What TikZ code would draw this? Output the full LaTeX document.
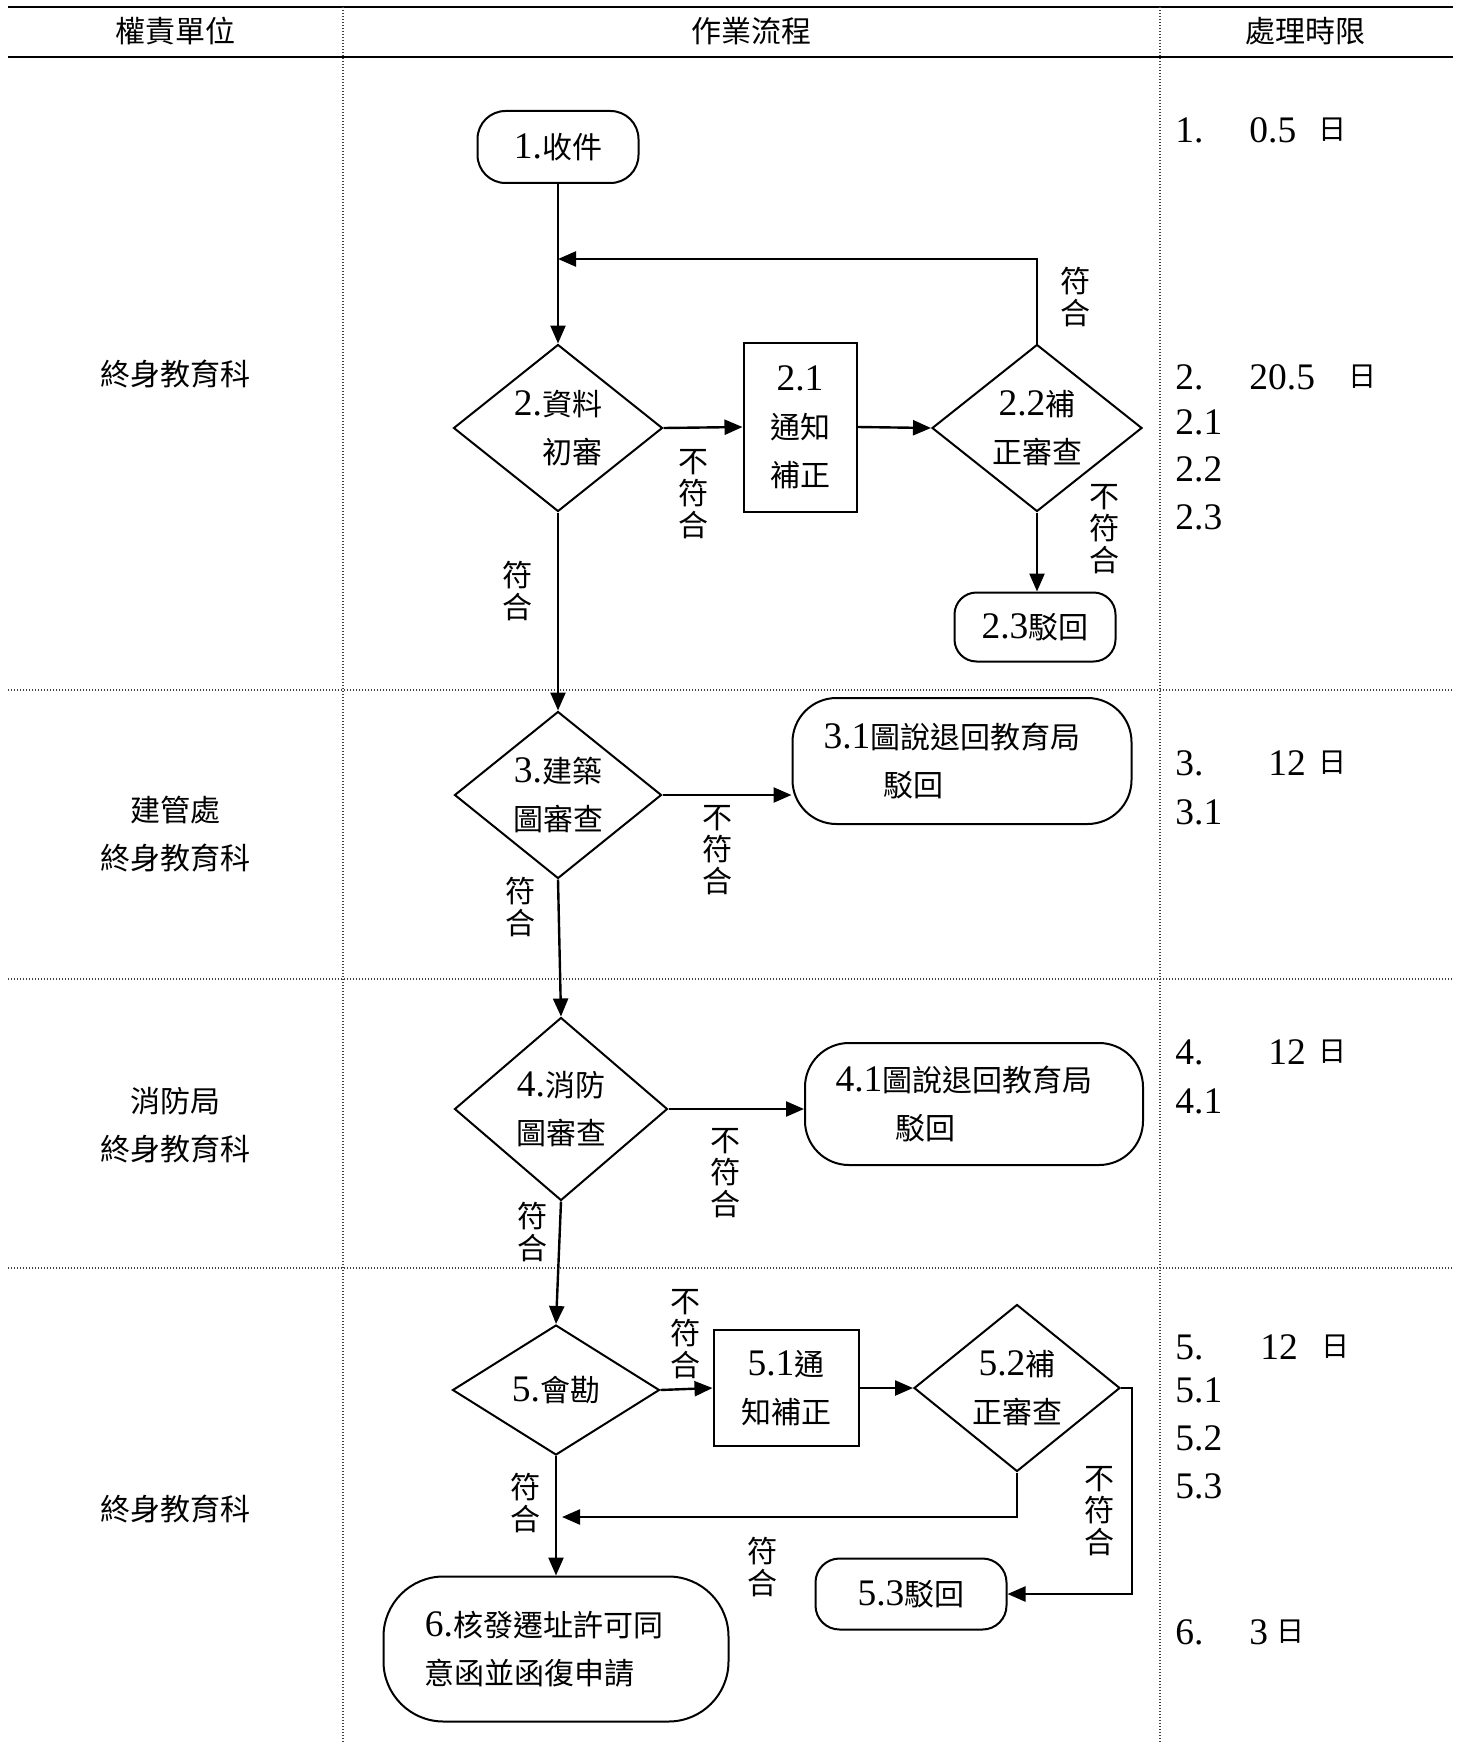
\documentclass[tikz,border=0pt]{standalone}
\usepackage{fontspec}
\setmainfont{Liberation Serif}[Scale=1.25]
\newfontfamily\cjk{Noto Sans CJK TC}
\newcommand{\zh}[1]{{\cjk #1}}
\usetikzlibrary{shapes.geometric, arrows.meta, positioning, calc}

\begin{document}
\begin{tikzpicture}[x=0.5pt, y=-0.5pt,
  decision/.style={draw, diamond, line width=1pt, inner sep=0pt, align=center, font=\fontsize{15}{24}\selectfont},
  process/.style={draw, rectangle, line width=1pt, inner sep=0pt, align=center, font=\fontsize{15}{24}\selectfont},
  terminal/.style={draw, rectangle, line width=1pt, inner sep=0pt, align=left, font=\fontsize{15}{24}\selectfont},
  flowarrow/.style={line width=1.2pt, -{Triangle[length=9pt, width=7.5pt]}},
  yesno/.style={align=center, inner sep=0pt, font=\cjk\fontsize{15}{16}\selectfont},
  unitname/.style={align=center, font=\cjk\fontsize{15}{24}\selectfont},
  tablerule/.style={line width=1.2pt},
  gridline/.style={line width=0.6pt, black!75, dash pattern=on 0.6pt off 0.9pt},
  timetext/.style={anchor=west, inner sep=0pt, font=\fontsize{15}{18}\selectfont},
  dayword/.style={anchor=west, inner sep=0pt, font=\cjk\fontsize{14}{16}\selectfont}
]
  \useasboundingbox (0,0) rectangle (1460,1744);

  % Table frame
  \draw[tablerule] (8,7) -- (1453,7);
  \draw[tablerule] (8,57) -- (1453,57);
  \draw[gridline] (343,7) -- (343,1744);
  \draw[gridline] (1160,7) -- (1160,1744);
  \draw[gridline] (8,690) -- (1453,690);
  \draw[gridline] (8,979) -- (1453,979);
  \draw[gridline] (8,1268) -- (1453,1268);

  % Header
  \node[unitname] (hunit) at (175,31) {權責單位};
  \node[unitname] (hflow) at (751,31) {作業流程};
  \node[unitname] (htime) at (1305,31) {處理時限};

  % Units
  \node[unitname] (u1) at (175,374) {終身教育科};
  \node[unitname] (u2) at (175,834) {建管處\\終身教育科};
  \node[unitname] (u3) at (175,1125) {消防局\\終身教育科};
  \node[unitname] (u4) at (175,1509) {終身教育科};

  % Flow nodes
  \node[terminal, rounded corners=14pt, minimum width=80.5pt, minimum height=36pt] (n1) at (558,147) {1.\zh{收件}};
  \node[decision, align=right, minimum width=104.5pt, minimum height=83.5pt] (d2) at (558,428) {2.\zh{資料}\\\zh{初審}};
  \node[process, minimum width=56.5pt, minimum height=84.5pt] (b21) at (800,427) {2.1\\\zh{通知}\\\zh{補正}};
  \node[decision, minimum width=105pt, minimum height=83.5pt] (d22) at (1037,428) {2.2\zh{補}\\\zh{正審查}};
  \node[terminal, rounded corners=11pt, minimum width=80.5pt, minimum height=34.5pt] (r23) at (1035,627) {2.3\zh{駁回}};

  \node[decision, minimum width=103.5pt, minimum height=83.5pt] (d3) at (558,795) {3.\zh{建築}\\\zh{圖審查}};
  \node[terminal, rounded corners=22pt, minimum width=169.5pt, minimum height=63pt] (r31) at (962,761) {3.1\zh{圖說退回教育局}\kern10pt\\\hspace{30pt}\zh{駁回}};

  \node[decision, minimum width=106.5pt, minimum height=91.5pt] (d4) at (561,1109) {4.\zh{消防}\\\zh{圖審查}};
  \node[terminal, rounded corners=22pt, minimum width=169pt, minimum height=61pt] (r41) at (974,1104) {4.1\zh{圖說退回教育局}\kern10pt\\\hspace{30pt}\zh{駁回}};

  \node[decision, minimum width=103.5pt, minimum height=65pt] (d5) at (556,1390) {5.\zh{會勘}};
  \node[process, minimum width=72.5pt, minimum height=58pt] (b51) at (786,1388) {5.1\zh{通}\\\zh{知補正}};
  \node[decision, minimum width=103pt, minimum height=83.5pt] (d52) at (1017,1388) {5.2\zh{補}\\\zh{正審查}};
  \node[terminal, rounded corners=12pt, minimum width=95.5pt, minimum height=35.5pt] (r53) at (911,1594) {5.3\zh{駁回}};
  \node[terminal, rounded corners=30pt, minimum width=172.5pt, minimum height=72.5pt] (n6) at (556,1649) {6.\zh{核發遷址許可同}\kern12pt\\\zh{意函並函復申請}};

  % Connectors
  \coordinate (back2) at (558,259);
  \coordinate (back5) at (562,1517);
  \coordinate (side5) at (1132,1594);
  \draw[flowarrow] (n1.south) -- (d2.north);
  \draw[flowarrow] (d2.east) -- (b21.west);
  \draw[flowarrow] (b21.east) -- (d22.west);
  \draw[flowarrow] (d22.north) |- (back2);
  \draw[flowarrow] (d22.south) -- (d22.south |- r23.north);
  \draw[flowarrow] (d2.south) -- (d3.north);
  \draw[flowarrow] (d3.east) -- (d3.east -| r31.west);
  \draw[flowarrow] (d3.south) -- (d4.north);
  \draw[flowarrow] (d4.east) -- (d4.east -| r41.west);
  \draw[flowarrow] (d4.south) -- (d5.north);
  \draw[flowarrow] (d5.east) -- (b51.west);
  \draw[flowarrow] (b51.east) -- (d52.west);
  \draw[flowarrow] (d52.south) |- (back5);
  \draw[flowarrow] (d52.east) -| (side5) -- (r53.east);
  \draw[flowarrow] (d5.south) -- (n6.north);

  % Branch labels
  \node[yesno] (no2) at (693,494) {不\\符\\合};
  \node[yesno] (yes22) at (1075,297) {符\\合};
  \node[yesno] (no22) at (1104,529) {不\\符\\合};
  \node[yesno] (yes2) at (517,591) {符\\合};
  \node[yesno] (no3) at (717,850) {不\\符\\合};
  \node[yesno] (yes3) at (520,907) {符\\合};
  \node[yesno] (no4) at (725,1173) {不\\符\\合};
  \node[yesno] (yes4) at (532,1232) {符\\合};
  \node[yesno] (no5) at (685,1334) {不\\符\\合};
  \node[yesno] (yes5) at (525,1503) {符\\合};
  \node[yesno] (yes52) at (762,1567) {符\\合};
  \node[yesno] (no52) at (1099,1511) {不\\符\\合};

  % Time limits
  \foreach \n/\y/\num/\nx/\dx in {1/130/0.5/1249/1318, 2/377/20.5/1249/1348, 3/763/12/1268/1318, 4/1052/12/1268/1318, 5/1347/12/1260/1321, 6/1632/3/1249/1276} {
    \node[timetext] (lim\n) at (1175,\y) {\n.};
    \node[timetext] (dur\n) at (\nx,\y) {\num};
    \node[dayword] (day\n) at (\dx,\y) {日};
  }
  \foreach \a/\b/\y in {2/1/422, 2/2/469, 2/3/517, 3/1/812, 4/1/1101, 5/1/1390, 5/2/1438, 5/3/1486}
    \node[timetext] (sub\a\b) at (1175,\y) {\a.\b};
\end{tikzpicture}
\end{document}
